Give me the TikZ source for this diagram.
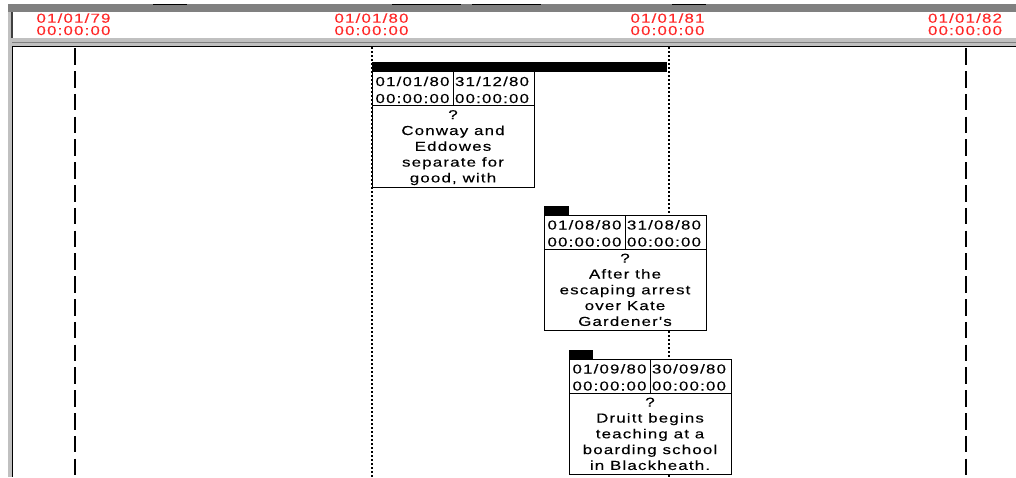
\documentclass[tikz,border=0pt]{standalone}
\usepackage{fontspec}
\newfontfamily\gfont[FakeStretch=1.3,LetterSpace=9,FakeBold=0.15]{Liberation Sans}
\definecolor{framegray}{RGB}{128,128,128}
\definecolor{lightframe}{RGB}{192,192,192}
\definecolor{darkframe}{RGB}{64,64,64}
\definecolor{hdrred}{RGB}{255,40,40}
\tikzset{
  hdr/.style={font=\gfont\fontsize{13}{13}\selectfont, text=hdrred, inner sep=0pt, anchor=base},
  txt/.style={font=\gfont\fontsize{13}{13}\selectfont, text=black, inner sep=0pt, anchor=base},
  evbox/.style={draw=black, line width=0.9pt, fill=white},
  evline/.style={draw=black, line width=0.9pt},
  dashv/.style={draw=black, line width=1.6pt, dash pattern=on 16.5pt off 6.3pt, dash phase=-1.2pt},
  dotv/.style={draw=black, line width=1.3pt, dash pattern=on 1.5pt off 2.5pt},
  tabbar/.style={draw=black, line width=1.2pt}
}
\newcommand\hdrlabel[3]{%
  \node[hdr] (#1a) at (#2,22.7) {#3};
  \node[hdr] (#1b) at (#2,35) {00:00:00};
}
\newcommand\eventbox[7]{%
  \fill[black] (#2,#3-9.5) rectangle (#4,#3);
  \draw[evbox] (#2,#3) rectangle (#2+162,#3+115.5);
  \draw[evline] (#2,#3+34) -- (#2+162,#3+34);
  \draw[evline] (#2+81,#3) -- (#2+81,#3+34);
  \node[txt] (#1da) at (#2+40.5,#3+14.5) {#5};
  \node[txt] (#1ta) at (#2+40.5,#3+31.5) {00:00:00};
  \node[txt] (#1db) at (#2+120,#3+14.5) {#6};
  \node[txt] (#1tb) at (#2+120,#3+31.5) {00:00:00};
  \foreach \t [count=\i] in {#7} {
    \node[txt] (#1l\i) at (#2+81,#3+47.7+15.8*\i-15.8) {\t};
  }
}
\begin{document}
\begin{tikzpicture}[x=1pt,y=-1pt]
\useasboundingbox (0,0) rectangle (1016,477);
\fill[white] (0,0) rectangle (1016,477);
% frame
\fill[framegray] (8,4) rectangle (1016,12);
\fill[lightframe] (8,12) rectangle (12,477);
\fill[darkframe] (11,12) rectangle (12.5,38);
\fill[lightframe] (12,38) rectangle (1016,46);
\draw[framegray, line width=1pt] (12,42.5) -- (1016,42.5);
\draw[black, line width=1.2pt] (12,46.2) -- (1016,46.2);
\draw[black, line width=1.3pt] (12.3,46) -- (12.3,477);
\draw[tabbar] (153,4.6) -- (187,4.6);
\draw[tabbar] (392,4.6) -- (461,4.6);
\draw[tabbar] (472,4.6) -- (541,4.6);
\draw[tabbar] (672,4.6) -- (706,4.6);
% header labels
\hdrlabel{h79}{73.5}{01/01/79}
\hdrlabel{h80}{371.5}{01/01/80}
\hdrlabel{h81}{667.5}{01/01/81}
\hdrlabel{h82}{965}{01/01/82}
% grid lines
\draw[dashv] (75,47) -- (75,477);
\draw[dashv] (966,47) -- (966,477);
\draw[dotv] (372,47) -- (372,477);
\draw[dotv] (669,47) -- (669,477);
% events
\eventbox{ea}{372}{71.5}{667}{01/01/80}{31/12/80}{?,Conway and,Eddowes,separate for,{good, with}}
\eventbox{eb}{544}{215}{569}{01/08/80}{31/08/80}{?,After the,escaping arrest,over Kate,Gardener's}
\eventbox{ec}{569}{359}{593}{01/09/80}{30/09/80}{?,Druitt begins,teaching at a,boarding school,in Blackheath.}
\end{tikzpicture}
\end{document}
